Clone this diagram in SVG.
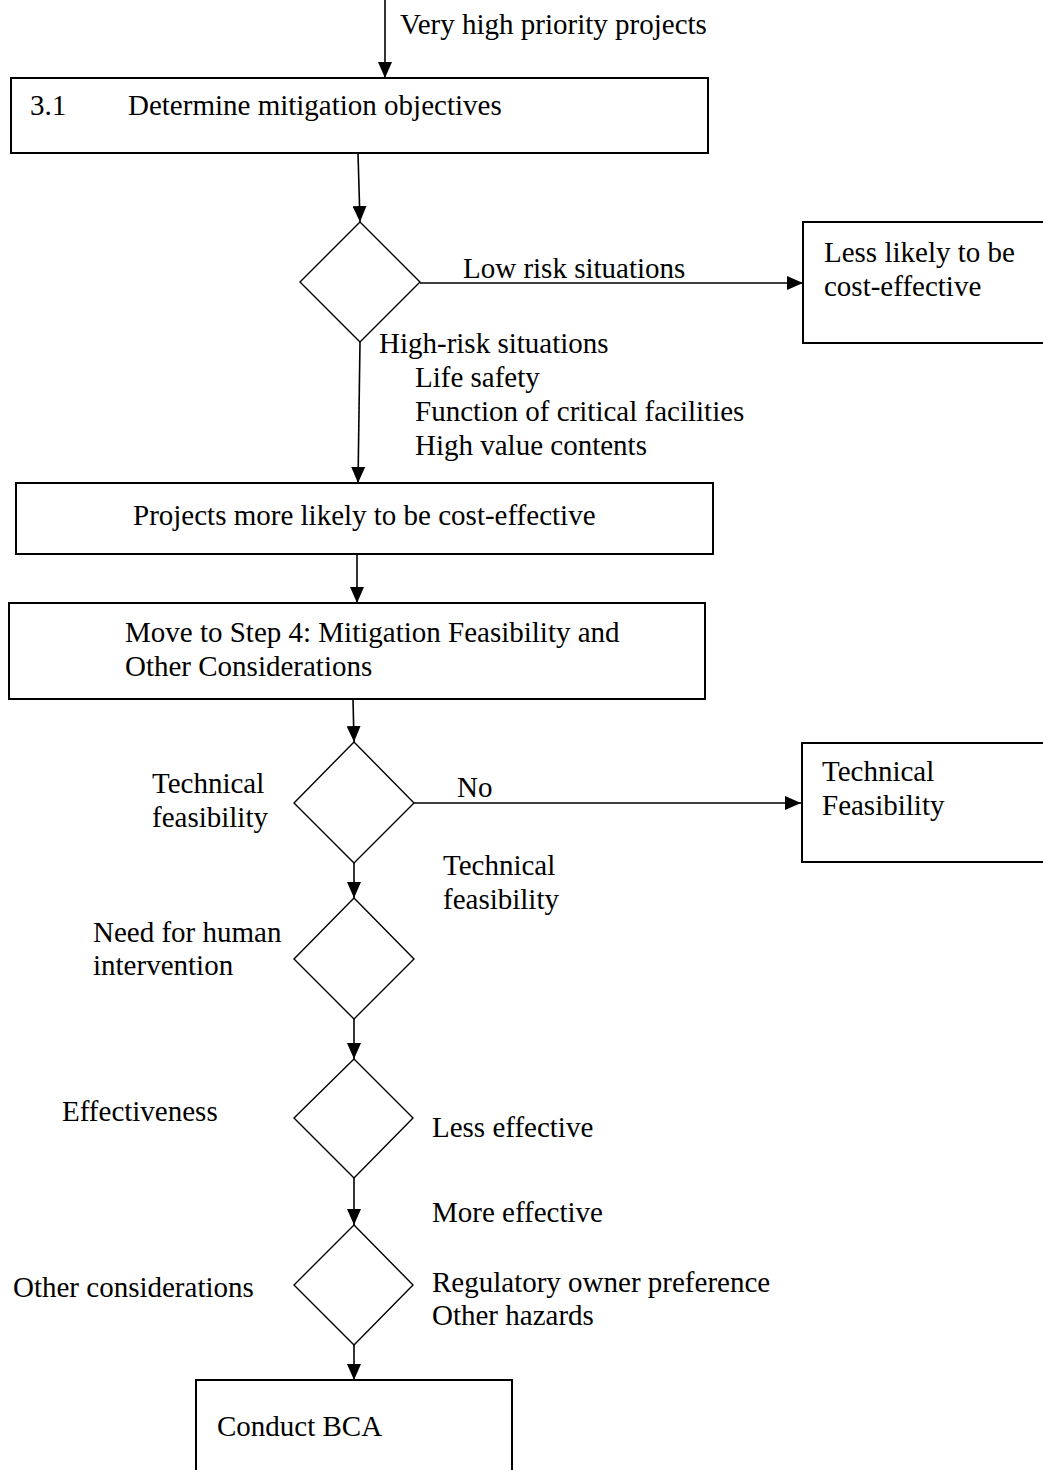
<svg xmlns="http://www.w3.org/2000/svg" width="1043" height="1470" viewBox="0 0 1043 1470">
<defs>
<marker id="ah" markerWidth="16" markerHeight="14" refX="16" refY="7" orient="auto" markerUnits="userSpaceOnUse">
<path d="M0,0 L16,7 L0,14 Z" fill="#000"/>
</marker>
<style>
text{font-family:"Liberation Serif","Times New Roman",serif;font-size:29px;fill:#000}
.box{fill:#fff;stroke:#000;stroke-width:2}
.dia{fill:#fff;stroke:#000;stroke-width:1.4}
.con{fill:none;stroke:#000;stroke-width:1.6;marker-end:url(#ah)}
</style>
</defs>
<rect width="1043" height="1470" fill="#fff"/>
<g id="connectors">
<line class="con" x1="385" y1="0" x2="385" y2="78"/>
<line class="con" x1="358" y1="153" x2="360" y2="222"/>
<line class="con" x1="420" y1="283" x2="803" y2="283"/>
<line class="con" x1="360" y1="342" x2="358" y2="483"/>
<line class="con" x1="357" y1="555" x2="357" y2="603"/>
<line class="con" x1="353" y1="699" x2="354" y2="742"/>
<line class="con" x1="414" y1="803" x2="801" y2="803"/>
<line class="con" x1="354" y1="863" x2="354" y2="898"/>
<line class="con" x1="354" y1="1019" x2="354" y2="1059"/>
<line class="con" x1="354" y1="1178" x2="354" y2="1225"/>
<line class="con" x1="354" y1="1345" x2="354" y2="1380"/>
</g>
<text x="400" y="34">Very high priority projects</text>
<g id="n1">
<rect class="box" x="11" y="78" width="697" height="75"/>
<text x="30" y="115">3.1</text>
<text x="128" y="115">Determine mitigation objectives</text>
</g>
<g id="d1">
<polygon class="dia" points="360,222 420,282 360,342 300,282"/>
</g>
<text x="463" y="278">Low risk situations</text>
<g id="n2">
<rect class="box" x="803" y="222" width="250" height="121"/>
<text x="824" y="262">Less likely to be</text>
<text x="824" y="296">cost-effective</text>
</g>
<text x="379" y="353">High-risk situations</text>
<text x="415" y="387">Life safety</text>
<text x="415" y="421">Function of critical facilities</text>
<text x="415" y="455">High value contents</text>
<g id="n3">
<rect class="box" x="16" y="483" width="697" height="71"/>
<text x="133" y="525">Projects more likely to be cost-effective</text>
</g>
<g id="n4">
<rect class="box" x="9" y="603" width="696" height="96"/>
<text x="125" y="642">Move to Step 4: Mitigation Feasibility and</text>
<text x="125" y="676">Other Considerations</text>
</g>
<g id="d2">
<polygon class="dia" points="354,742 414,803 354,863 294,803"/>
</g>
<text x="152" y="793">Technical</text>
<text x="152" y="827">feasibility</text>
<text x="457" y="797">No</text>
<g id="n5">
<rect class="box" x="802" y="743" width="250" height="119"/>
<text x="822" y="781">Technical</text>
<text x="822" y="815">Feasibility</text>
</g>
<text x="443" y="875">Technical</text>
<text x="443" y="909">feasibility</text>
<g id="d3">
<polygon class="dia" points="354,898 414,959 354,1019 294,959"/>
</g>
<text x="93" y="942">Need for human</text>
<text x="93" y="975">intervention</text>
<g id="d4">
<polygon class="dia" points="354,1059 413,1118 354,1178 294,1118"/>
</g>
<text x="62" y="1121">Effectiveness</text>
<text x="432" y="1137">Less effective</text>
<text x="432" y="1222">More effective</text>
<g id="d5">
<polygon class="dia" points="354,1225 413,1285 354,1345 294,1285"/>
</g>
<text x="13" y="1297">Other considerations</text>
<text x="432" y="1292">Regulatory owner preference</text>
<text x="432" y="1325">Other hazards</text>
<g id="n6">
<rect class="box" x="196" y="1380" width="316" height="120"/>
<text x="217" y="1436">Conduct BCA</text>
</g>
</svg>
